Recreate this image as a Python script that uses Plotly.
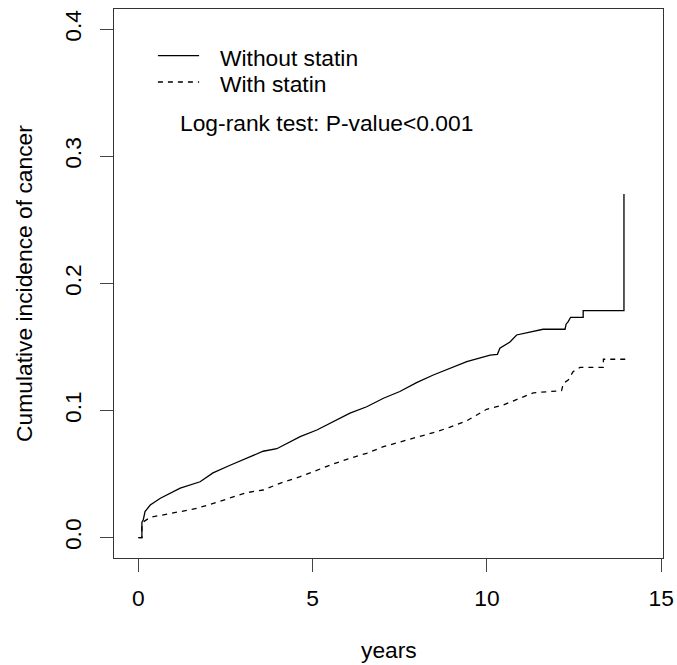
import plotly.graph_objects as go

# Without statin (cumulative incidence)
t_without = [0, 0.1, 0.1, 0.14, 0.19, 0.34, 0.63, 1.2, 1.77, 2.14, 2.63, 3.1, 3.58, 3.97, 4.35,
             4.64, 5.12, 5.59, 6.07, 6.55, 7.03, 7.5, 7.98, 8.46, 8.94, 9.42, 10.09, 10.3,
             10.37, 10.66, 10.85, 11.33, 11.61, 12.24, 12.27, 12.33, 12.40, 12.76, 12.76,
             13.93, 13.93]
v_without = [0, 0, 0.012, 0.014, 0.0205, 0.0257, 0.031, 0.039, 0.044, 0.051, 0.057, 0.0625,
             0.068, 0.070, 0.0755, 0.0795, 0.0847, 0.0913, 0.098, 0.103, 0.1097, 0.115, 0.122,
             0.128, 0.133, 0.1385, 0.1437, 0.1443, 0.149, 0.154, 0.1595, 0.162, 0.164, 0.164,
             0.168, 0.170, 0.1734, 0.1734, 0.1786, 0.1786, 0.2704]

# With statin
t_with = [0, 0.1, 0.1, 0.15, 0.34, 0.72, 1.2, 1.67, 2.15, 2.63, 3.1, 3.58, 4.06, 4.64, 5.12,
          5.59, 6.07, 6.55, 7.03, 7.5, 7.98, 8.46, 8.94, 9.42, 9.99, 10.47, 10.95, 11.33,
          12.14, 12.19, 12.33, 12.47, 12.67, 13.34, 13.34, 14.0]
v_with = [0, 0, 0.0098, 0.0126, 0.016, 0.018, 0.020, 0.023, 0.027, 0.031, 0.0354, 0.0375,
          0.0428, 0.048, 0.0533, 0.058, 0.0625, 0.0664, 0.0716, 0.0755, 0.079, 0.0826, 0.0869,
          0.092, 0.101, 0.1044, 0.1097, 0.114, 0.1157, 0.1215, 0.124, 0.1306, 0.134, 0.134,
          0.1404, 0.1404]

x_ticks = [0, 5, 10, 15]
y_ticks = [0.0, 0.1, 0.2, 0.3, 0.4]
y_tick_labels = ["0.0", "0.1", "0.2", "0.3", "0.4"]
series_names = ["Without statin", "With statin"]
test_label = "Log-rank test: P-value<0.001"
x_title = "years"
y_title = "Cumulative incidence of cancer"

FONT = "Liberation Sans, Arial, sans-serif"
FS = 22.8

fig = go.Figure()
fig.add_trace(go.Scatter(x=t_without, y=v_without, mode="lines", name=series_names[0],
                         line=dict(color="black", width=1.3), showlegend=False))
fig.add_trace(go.Scatter(x=t_with, y=v_with, mode="lines", name=series_names[1],
                         line=dict(color="black", width=1.3, dash="5px,5px"), showlegend=False))

# legend keys (manual, R-style)
fig.add_shape(type="line", xref="paper", yref="paper", x0=0.080, x1=0.155, y0=0.915, y1=0.915,
              line=dict(color="black", width=1.3))
fig.add_shape(type="line", xref="paper", yref="paper", x0=0.080, x1=0.155, y0=0.867, y1=0.867,
              line=dict(color="black", width=1.3, dash="5px,5px"))
txt_font = dict(family=FONT, size=FS, color="black")
fig.add_annotation(xref="paper", yref="paper", x=0.189, y=0.911, text=series_names[0],
                   showarrow=False, xanchor="left", yanchor="middle", font=txt_font)
fig.add_annotation(xref="paper", yref="paper", x=0.189, y=0.863, text=series_names[1],
                   showarrow=False, xanchor="left", yanchor="middle", font=txt_font)
fig.add_annotation(xref="paper", yref="paper", x=0.117, y=0.793, text=test_label,
                   showarrow=False, xanchor="left", yanchor="middle", font=txt_font)
# axis titles
fig.add_annotation(xref="paper", yref="paper", x=0.5, y=-0.168, text=x_title,
                   showarrow=False, xanchor="center", yanchor="middle", font=txt_font)
fig.add_annotation(xref="paper", yref="paper", x=-0.165, y=0.5, text=y_title, textangle=-90,
                   showarrow=False, xanchor="center", yanchor="middle", font=txt_font)

fig.update_layout(
    width=677, height=665,
    margin=dict(l=114, r=14, t=9, b=107),
    paper_bgcolor="white", plot_bgcolor="white",
    font=txt_font,
)
fig.update_xaxes(range=[-0.70, 15.05], tickvals=x_ticks, ticks="outside", ticklen=13,
                 tickcolor="#444", showline=True, linecolor="#333", linewidth=1, mirror=True,
                 showgrid=False, zeroline=False, automargin=False, ticklabelstandoff=7,
                 tickfont=dict(family=FONT, size=FS))
fig.update_yaxes(range=[-0.016, 0.416], tickvals=y_ticks, ticktext=y_tick_labels,
                 ticks="outside", ticklen=13, tickcolor="#444", tickangle=-90,
                 showline=True, linecolor="#333", linewidth=1, mirror=True,
                 showgrid=False, zeroline=False, automargin=False, ticklabelstandoff=10,
                 tickfont=dict(family=FONT, size=FS))

fig.write_html("out.html", config={"displayModeBar": False},
               post_script="document.body.style.margin='0';document.body.style.overflow='hidden';")
